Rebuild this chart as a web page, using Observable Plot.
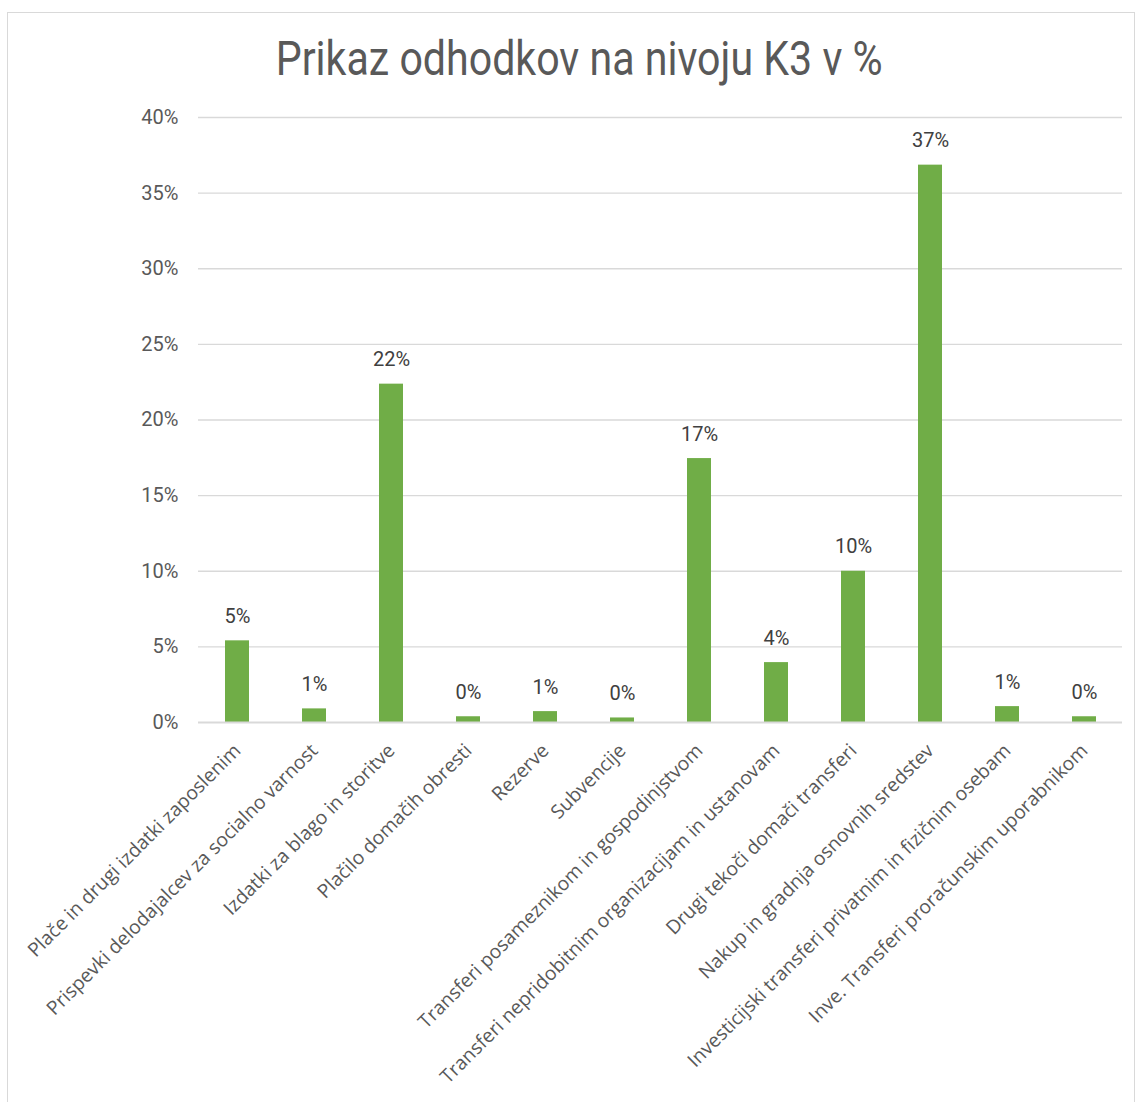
<!DOCTYPE html>
<html>
<head>
<meta charset="utf-8">
<script src="https://cdn.jsdelivr.net/npm/d3@7"></script>
<script src="https://cdn.jsdelivr.net/npm/@observablehq/plot@0.6"></script>
<style>
  html, body { margin: 0; padding: 0; background: #fff; }
  #wrap { position: relative; width: 1140px; height: 1102px; overflow: hidden; background: #fff; }
  #frame { position: absolute; left: 7px; top: 12px; width: 1128px; height: 1100px; border: 1.5px solid #d9d9d9; box-sizing: border-box; }
  #title { position: absolute; top: 35px; left: 9px; width: 1140px; text-align: center; white-space: nowrap;
           font-family: "Liberation Sans Narrow", Roboto, sans-serif; font-size: 48px; color: #595959; line-height: 1; }
  #title span { display: inline-block; transform-origin: center; }
  #chart { position: absolute; left: 0; top: 0; }
</style>
</head>
<body>
<div id="wrap">
  <div id="frame"></div>
  <div id="chart"></div>
  <div id="title"><span id="titleText">Prikaz odhodkov na nivoju K3 v %</span></div>
</div>
<script>
const categories = [
  "Plače in drugi izdatki zaposlenim",
  "Prispevki delodajalcev za socialno varnost",
  "Izdatki za blago in storitve",
  "Plačilo domačih obresti",
  "Rezerve",
  "Subvencije",
  "Transferi posameznikom in gospodinjstvom",
  "Transferi nepridobitnim organizacijam in ustanovam",
  "Drugi tekoči domači transferi",
  "Nakup in gradnja osnovnih sredstev",
  "Investicijski transferi privatnim in fizičnim osebam",
  "Inve. Transferi proračunskim uporabnikom"
];
const values = [5.4, 0.9, 22.37, 0.38, 0.72, 0.3, 17.45, 3.96, 10.0, 36.85, 1.05, 0.38];
const yTicks = [0, 5, 10, 15, 20, 25, 30, 35, 40];

const data = categories.map((c, i) => ({category: c, value: values[i]}));

const plot = Plot.plot({
  width: 1140,
  height: 1102,
  marginTop: 117,
  marginBottom: 380,
  marginLeft: 198,
  marginRight: 18,
  style: {background: "transparent", overflow: "visible"},
  x: {domain: categories, paddingInner: 0.69, paddingOuter: 0.345, label: null},
  y: {domain: [0, 40], label: null},
  marks: [
    Plot.gridY(yTicks.filter(d => d > 0), {stroke: "#d9d9d9", strokeOpacity: 1, strokeWidth: 1.3}),
    Plot.axisY({ticks: yTicks, tickFormat: d => d + "%", tickSize: 0, tickPadding: 20,
      fontSize: 20, fill: "#595959", fontFamily: "Roboto, sans-serif", label: null}),
    Plot.barY(data, {x: "category", y: "value", fill: "#70ad47"}),
    Plot.ruleY([0], {stroke: "#d9d9d9", strokeWidth: 2}),
    Plot.text(data, {x: "category", y: "value", text: d => Math.round(d.value) + "%",
      lineAnchor: "bottom", dy: -18, fontSize: 20, fill: "#404040", fontFamily: "Roboto, sans-serif"}),
    Plot.axisX({tickRotate: -45, tickSize: 0, tickPadding: 25, fontSize: 19.3,
      fill: "#595959", fontFamily: "'Open Sans', sans-serif", label: null})
  ]
});
document.getElementById("chart").appendChild(plot);

// fit title to reference width
const t = document.getElementById("titleText");
const w = t.getBoundingClientRect().width;
t.style.transform = `scaleX(${607 / w})`;
</script>
</body>
</html>
